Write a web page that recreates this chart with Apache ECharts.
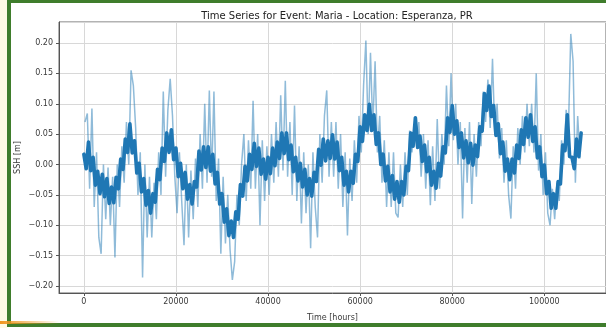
<!DOCTYPE html>
<html>
<head>
<meta charset="utf-8">
<script src="https://cdn.jsdelivr.net/npm/echarts@6/dist/echarts.min.js"></script>
<style>
html,body{margin:0;padding:0;background:#fff;}
#chart{width:606px;height:328px;}
</style>
</head>
<body>
<div id="chart"></div>
<script>
// Dark blue series (band top / band bottom alternately), sampled every 500 hours from 0
var darkStep = 500;
var darkValues = [
 0.017,-0.007,0.037,-0.01,0.012,-0.034,-0.011,-0.048,-0.016,-0.053,
 -0.023,-0.064,-0.037,-0.063,-0.021,-0.04,0.009,-0.008,0.042,0.02,
 0.067,0.019,0.039,-0.014,0.002,-0.045,-0.023,-0.067,-0.043,-0.08,
 -0.048,-0.062,-0.008,-0.025,0.027,0.005,0.052,0.02,0.057,0.008,
 0.027,-0.02,0.002,-0.04,-0.013,-0.057,-0.033,-0.065,-0.028,-0.037,
 0.022,-0.009,0.029,-0.005,0.029,-0.011,0.017,-0.032,-0.013,-0.065,
 -0.048,-0.095,-0.073,-0.117,-0.093,-0.12,-0.078,-0.09,-0.033,-0.052,
 -0.003,-0.027,0.017,-0.008,0.035,-0.003,0.027,-0.016,0.009,-0.024,
 0.012,-0.015,0.027,-0.002,0.037,0.01,0.052,0.018,0.052,0.008,
 0.032,-0.012,0.012,-0.027,0.002,-0.037,-0.008,-0.05,-0.023,-0.052,
 -0.013,-0.028,0.025,-0.001,0.042,0.006,0.039,0.01,0.049,0.009,
 0.037,-0.01,0.012,-0.034,-0.011,-0.045,-0.011,-0.031,0.017,0.005,
 0.062,0.038,0.082,0.056,0.099,0.056,0.082,0.033,0.052,0.0,
 0.017,-0.027,-0.003,-0.045,-0.018,-0.057,-0.028,-0.062,-0.028,-0.05,
 -0.003,-0.01,0.052,0.03,0.077,0.028,0.047,0.005,0.032,-0.012,
 0.012,-0.034,-0.011,-0.039,0.002,-0.019,0.029,0.019,0.077,0.053,
 0.097,0.05,0.072,0.028,0.052,0.011,0.039,0.003,0.035,-0.001,
 0.032,0.013,0.062,0.055,0.117,0.089,0.129,0.079,0.097,0.048,
 0.067,0.018,0.037,-0.011,0.009,-0.025,0.009,-0.014,0.032,0.01,
 0.057,0.033,0.077,0.045,0.082,0.038,0.062,0.011,0.029,-0.02,
 -0.001,-0.048,-0.028,-0.072,-0.048,-0.072,-0.028,-0.032,0.032,0.023,
 0.082,0.013,0.012,-0.007,0.042,0.013,0.052
];
// Raw series (light blue), sampled every 500 hours starting at 250
var lightStart = 250;
var lightStep = 500;
var lightValues = [
 0.07,0.084,-0.04,0.092,-0.07,0.02,-0.12,-0.147,0.0,-0.09,
 -0.005,-0.1,-0.02,-0.153,0.0,-0.07,0.03,-0.03,0.07,0.0,
 0.155,0.13,0.06,-0.05,0.02,-0.186,0.0,-0.12,-0.02,-0.12,
 -0.03,-0.09,0.02,-0.05,0.12,-0.02,0.09,0.141,0.08,-0.02,
 -0.08,0.02,-0.06,-0.133,0.0,-0.12,-0.01,-0.09,0.01,-0.07,
 0.05,-0.04,0.1,-0.03,0.122,-0.02,0.12,-0.06,0.01,-0.147,
 -0.02,-0.13,-0.05,-0.14,-0.19,-0.16,-0.05,-0.1,0.0,0.05,
 -0.06,0.04,-0.04,0.105,-0.04,0.05,-0.1,0.04,-0.06,0.03,
 -0.05,0.05,-0.03,0.07,-0.02,0.114,-0.01,0.138,-0.02,0.07,
 -0.05,0.097,-0.06,0.03,-0.097,0.02,-0.08,0.0,-0.138,0.02,
 -0.07,-0.12,0.05,-0.03,0.08,0.122,-0.02,0.07,-0.02,0.07,
 -0.04,0.05,-0.07,0.02,-0.117,0.01,-0.06,0.04,-0.03,0.08,
 0.02,0.13,0.204,0.05,0.184,0.06,0.17,0.02,0.08,-0.03,
 0.04,-0.07,0.02,-0.07,0.02,-0.08,-0.087,0.0,-0.07,0.02,
 -0.05,0.056,0.02,0.066,0.03,0.07,-0.02,0.05,-0.04,0.04,
 -0.067,0.03,-0.06,0.075,-0.04,0.05,0.0,0.13,0.03,0.15,
 0.04,0.1,0.0,0.07,-0.089,0.06,-0.03,0.07,-0.065,0.05,
 -0.02,0.07,0.03,0.12,0.07,0.14,0.06,0.174,0.05,0.1,
 0.01,0.06,-0.03,0.04,-0.05,-0.089,0.03,-0.04,0.06,0.0,
 0.08,0.02,0.1,0.03,0.1,0.02,0.15,-0.01,0.05,-0.05,
 0.02,-0.08,-0.1,-0.04,-0.09,-0.03,-0.06,0.04,0.0,0.09,
 0.06,0.215,0.17,-0.03,0.08,0.01
];
var xTickValues = [0, 20000, 40000, 60000, 80000, 100000];
var titleText = 'Time Series for Event: Maria - Location: Esperanza, PR';
var xName = 'Time [hours]';
var yName = 'SSH [m]';

var darkData = darkValues.map(function(v, i){ return [i * darkStep, v]; });
var lightData = lightValues.map(function(v, i){ return [lightStart + i * lightStep, v]; });

var chart = echarts.init(document.getElementById('chart'), null, {renderer: 'canvas'});
var font = 'DejaVu Sans';
var labelColor = '#3a3a3a';
chart.setOption({
  animation: false,
  backgroundColor: '#ffffff',
  title: {
    text: titleText,
    left: 332, top: 6, textAlign: 'center',
    textStyle: {fontFamily: font, fontSize: 10, fontWeight: 'normal', color: '#222'}
  },
  grid: {left: 59, top: 22, right: 0, bottom: 35, show: true, borderColor: '#666', borderWidth: 1, containLabel: false},
  xAxis: {
    type: 'value', min: -5400, max: 113400, splitNumber: 6,
    name: xName, nameLocation: 'middle', nameGap: 21, nameMoveOverlap: false,
    nameTextStyle: {fontFamily: font, fontSize: 8, color: labelColor},
    axisLine: {show: true, onZero: false, lineStyle: {color: '#555', width: 1}},
    axisTick: {show: true, length: 3, lineStyle: {color: '#555'},
      customValues: xTickValues},
    axisLabel: {fontFamily: font, fontSize: 8, color: labelColor, margin: 5,
      customValues: xTickValues,
      formatter: function(v){ return String(v); }},
    splitLine: {show: true, lineStyle: {color: '#d8d8d8', width: 1}}
  },
  yAxis: {
    type: 'value', min: -0.2115, max: 0.2346, splitNumber: 9,
    name: yName, nameLocation: 'middle', nameGap: 37, nameRotate: 90, nameMoveOverlap: false,
    nameTextStyle: {fontFamily: font, fontSize: 8, color: labelColor},
    axisLine: {show: true, onZero: false, lineStyle: {color: '#555', width: 1}},
    axisTick: {show: true, length: 3, lineStyle: {color: '#555'}},
    axisLabel: {fontFamily: font, fontSize: 8, color: labelColor, margin: 6,
      showMinLabel: false, showMaxLabel: false,
      formatter: function(v){ var s = Math.abs(v).toFixed(2); return (v < -1e-9 ? '\u2212' : '') + s; }},
    splitLine: {show: true, lineStyle: {color: '#d8d8d8', width: 1}}
  },
  series: [
    {type: 'line', data: lightData, showSymbol: false, sampling: null, z: 2,
     lineStyle: {color: 'rgba(31,119,180,0.5)', width: 1.5}},
    {type: 'line', data: darkData, showSymbol: false, sampling: null, z: 3,
     lineStyle: {color: '#1f77b4', width: 3.6, join: 'round', cap: 'round'}}
  ],
  graphic: [
    {type: 'rect', shape: {x: 0, y: 0, width: 7, height: 328}, style: {fill: '#fffbe4'}, silent: true},
    {type: 'rect', shape: {x: 7, y: 0, width: 599, height: 3}, style: {fill: '#3f7d2c'}, silent: true},
    {type: 'rect', shape: {x: 7, y: 0, width: 4, height: 327}, style: {fill: '#3f7d2c'}, silent: true},
    {type: 'rect', shape: {x: 7, y: 323, width: 599, height: 4}, style: {fill: '#3f7d2c'}, silent: true},
    {type: 'rect', shape: {x: 0, y: 321, width: 60, height: 3},
     style: {fill: new echarts.graphic.LinearGradient(0, 0, 1, 0, [
       {offset: 0, color: 'rgba(240,150,30,1)'}, {offset: 1, color: 'rgba(240,150,30,0)'}])}, silent: true}
  ]
});
</script>
</body>
</html>
